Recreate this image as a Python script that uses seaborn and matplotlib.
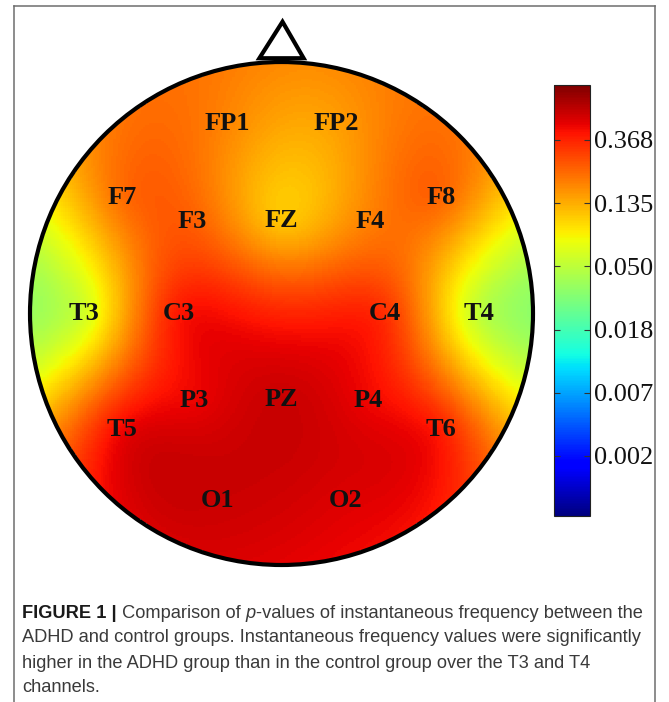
import numpy as np
import pandas as pd
import matplotlib
matplotlib.use("Agg")
import matplotlib.pyplot as plt
import seaborn as sns
from matplotlib.patches import Circle, Polygon
from matplotlib.lines import Line2D

# ---------------- data ----------------
channels = ["FP1", "FP2", "F7", "F3", "FZ", "F4", "F8",
            "T3", "C3", "C4", "T4",
            "T5", "P3", "PZ", "P4", "T6", "O1", "O2"]
p_values = [0.180, 0.150, 0.215, 0.240, 0.115, 0.190, 0.225,
            0.060, 0.400, 0.340, 0.052,
            0.450, 0.460, 0.560, 0.450, 0.380, 0.560, 0.500]
cbar_ticks_ln = [-1, -2, -3, -4, -5, -6]
cbar_tick_labels = ["0.368", "0.135", "0.050", "0.018", "0.007", "0.002"]
caption_runs = [
    [("FIGURE 1 |", "bold"), (" Comparison of ", "normal"), ("p", "italic"),
     ("-values of instantaneous frequency between the", "normal")],
    [("ADHD and control groups. Instantaneous frequency values were significantly", "normal")],
    [("higher in the ADHD group than in the control group over the T3 and T4", "normal")],
    [("channels.", "normal")],
]

# ---------------- montage layout (10-20, angle from nose, normalized radius) ----------------
angles_deg = [-16, 16, -54, -44, 0, 44, 54,
              -90, -90, 90, 90,
              -126, -135, 180, 135, 126, -161, 161]
radii = [0.785, 0.785, 0.785, 0.51, 0.37, 0.51, 0.785,
         0.785, 0.41, 0.41, 0.785,
         0.785, 0.49, 0.34, 0.49, 0.785, 0.785, 0.785]

th = np.deg2rad(angles_deg)
ex = np.array(radii) * np.sin(th)
ey = np.array(radii) * np.cos(th)
vals = np.log(np.array(p_values))

# biharmonic spline interpolation (MATLAB 'v4' style) in log-p space
def green(r):
    with np.errstate(divide="ignore", invalid="ignore"):
        g = r ** 2 * (np.log(r) - 1.0)
    return np.where(r > 0, g, 0.0)

D = np.hypot(ex[:, None] - ex[None, :], ey[:, None] - ey[None, :])
w = np.linalg.solve(green(D), vals)

N = 241
gx = np.linspace(-1, 1, N)
gy = np.linspace(1, -1, N)
GX, GY = np.meshgrid(gx, gy)
R = np.hypot(GX[..., None] - ex, GY[..., None] - ey)
Z = (green(R) * w).sum(axis=-1)
mask = np.hypot(GX, GY) > 1.0
df = pd.DataFrame(Z)

# ---------------- figure ----------------
W, H = 669, 702
fig = plt.figure(figsize=(W / 100, H / 100), dpi=100)
fig.patch.set_facecolor("white")

def box(x0, y0, x1, y1):
    return [x0 / W, 1 - y1 / H, (x1 - x0) / W, (y1 - y0) / H]

ax = fig.add_axes(box(30, 62, 533, 565))
cax = fig.add_axes(box(554, 85, 590, 516))

vmin, vmax = -6.95, -0.13
sns.heatmap(df, mask=mask, cmap="jet", vmin=vmin, vmax=vmax, ax=ax, cbar_ax=cax,
            xticklabels=False, yticklabels=False, linewidths=0, rasterized=True)
ax.set_facecolor("white")
for s in ax.spines.values():
    s.set_visible(False)

# colorbar styling
cbar = ax.collections[0].colorbar
cbar.set_ticks(cbar_ticks_ln)
cbar.set_ticklabels(cbar_tick_labels)
cbar.outline.set_visible(True)
cbar.outline.set_edgecolor("#222222")
cbar.outline.set_linewidth(0.8)
cax.tick_params(axis="y", which="both", direction="in", length=4, width=0.8,
                color="#333333", left=True, right=True, labelsize=19, pad=3,
                labelcolor="#111111")
for lab in cax.get_yticklabels():
    lab.set_family("Liberation Serif")

# overlay axes for head outline and labels
ov = fig.add_axes(box(30, 62, 533, 565))
ov.set_xlim(-1, 1)
ov.set_ylim(-1, 1)
ov.axis("off")
ov.patch.set_alpha(0)
ov.add_patch(Circle((0, 0), 1.0, fill=False, lw=3.0, ec="black", clip_on=False))
ov.add_patch(Polygon([(-0.088, 1.015), (0.088, 1.015), (0.004, 1.160)], closed=True,
                     fill=False, lw=3.0, ec="black", joinstyle="miter", clip_on=False))
for name, x, y in zip(channels, ex, ey):
    ov.text(x, y, name, ha="center", va="center", fontsize=19, fontweight="bold",
            family="Liberation Serif", color="#111111", clip_on=False)

# outer frame
frame_c = "#6e6e6e"
fig.add_artist(Line2D([14 / W, 14 / W], [0, 1 - 6 / H], color=frame_c, lw=1.1))
fig.add_artist(Line2D([655 / W, 655 / W], [0, 1 - 6 / H], color=frame_c, lw=1.1))
fig.add_artist(Line2D([14 / W, 655 / W], [1 - 6 / H, 1 - 6 / H], color=frame_c, lw=1.1))

# caption with mixed styles
renderer = fig.canvas.get_renderer()
baselines = [617.5, 642.5, 667.5, 692.5]
cap_size = 13.15
for runs, yb in zip(caption_runs, baselines):
    x = 22 / W
    for s, style in runs:
        kw = dict(fontsize=cap_size, family="Liberation Sans", va="baseline", ha="left")
        if style == "bold":
            kw.update(fontweight="bold", color="#1a1a1a")
        elif style == "italic":
            kw.update(style="italic", color="#3a3a3a")
        else:
            kw.update(color="#3a3a3a")
        t = fig.text(x, 1 - yb / H, s, **kw)
        bb = t.get_window_extent(renderer=renderer)
        x += bb.width / W

fig.savefig("out.png", dpi=100, facecolor="white")
